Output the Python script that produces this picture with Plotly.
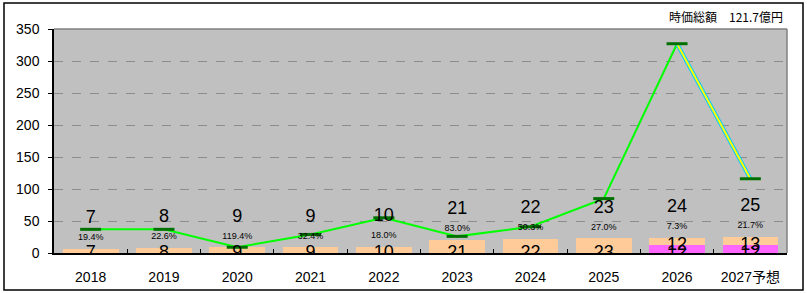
import plotly.graph_objects as go

years = ["2018", "2019", "2020", "2021", "2022", "2023", "2024", "2025", "2026", "2027予想"]
peach_vals = [7, 8, 9, 9, 10, 21, 22, 23, 12, 13]
magenta_vals = [None, None, None, None, None, None, None, None, 12, 12]
line_vals = [37, 37, 9, 29, 55, 26, 41, 85, 327, 116]
pct_labels = ["19.4%", "22.6%", "119.4%", "32.4%", "18.0%", "83.0%", "50.3%", "27.0%", "7.3%", "21.7%"]
title_text = "時価総額　121.7億円"

FONT = "Liberation Sans, Arial, Noto Sans CJK JP, sans-serif"
W, H = 807, 293
L, R, T, B = 54, 20, 29, 40
pw, ph = W - L - R, H - T - B

mag0 = [m or 0 for m in magenta_vals]
totals = [p + m for p, m in zip(peach_vals, mag0)]

fig = go.Figure()
fig.add_trace(go.Bar(x=years, y=magenta_vals, marker=dict(color="#FF66FF", line=dict(width=0)), width=0.76))
fig.add_trace(go.Bar(x=years, y=peach_vals, marker=dict(color="#FFCC99", line=dict(width=0)), width=0.76))

# main green line (actual)
fig.add_trace(go.Scatter(x=years[:9], y=line_vals[:9], mode="lines",
                         line=dict(color="#00FF00", width=2)))
# forecast segment: cyan border + yellow core
fig.add_trace(go.Scatter(x=years[8:], y=line_vals[8:], mode="lines",
                         line=dict(color="#00CCFF", width=4)))
fig.add_trace(go.Scatter(x=years[8:], y=line_vals[8:], mode="lines",
                         line=dict(color="#FFFF00", width=2)))
# markers
fig.add_trace(go.Scatter(x=years, y=line_vals, mode="markers",
                         marker=dict(symbol="line-ew", size=15, line=dict(color="#007000", width=3))))

# bar base labels
fig.add_trace(go.Scatter(x=years, y=[0] * len(years), mode="text",
                         text=[str(v) if m == 0 else str(m) for v, m in zip(peach_vals, mag0)],
                         textposition="middle center",
                         textfont=dict(family=FONT, size=18, color="black")))
fig.add_trace(go.Scatter(x=years[8:], y=mag0[8:], mode="text",
                         text=[str(v) for v in peach_vals[8:]],
                         textposition="middle center",
                         textfont=dict(family=FONT, size=18, color="black")))
# totals
fig.add_trace(go.Scatter(x=years, y=[t + 47 for t in totals], mode="text",
                         text=[str(t) for t in totals], textposition="middle center",
                         textfont=dict(family=FONT, size=18, color="black")))
# percentages
fig.add_trace(go.Scatter(x=years, y=[t + 17 for t in totals], mode="text",
                         text=pct_labels, textposition="middle center",
                         textfont=dict(family=FONT, size=9, color="black")))

fig.update_layout(
    width=W, height=H, margin=dict(l=L, r=R, t=T, b=B, pad=0, autoexpand=False),
    paper_bgcolor="white", plot_bgcolor="#C0C0C0",
    barmode="stack", showlegend=False, bargap=0.24,
    font=dict(family=FONT, size=14, color="black"),
    xaxis=dict(type="category", showgrid=False, ticks="inside", tickson="boundaries",
               ticklen=4, tickcolor="black", showline=True, linecolor="black", linewidth=1.5,
               ticklabelstandoff=10, tickfont=dict(family=FONT, size=14), range=[-0.5, 9.5],
               automargin=False),
    yaxis=dict(range=[0, 350], dtick=50, showgrid=True, gridcolor="#8C8C8C", griddash="dash",
               gridwidth=1, ticks="outside", ticklen=4, tickcolor="black", showline=True,
               linecolor="black", linewidth=1.5, zeroline=False, ticklabelstandoff=6,
               tickfont=dict(family=FONT, size=14), automargin=False),
    shapes=[
        dict(type="line", xref="paper", yref="paper", x0=0, x1=1, y0=1, y1=1,
             line=dict(color="#808080", width=1.5), layer="above"),
        dict(type="line", xref="paper", yref="paper", x0=1, x1=1, y0=0, y1=1,
             line=dict(color="#808080", width=1.5), layer="above"),
        dict(type="rect", xref="paper", yref="paper",
             x0=(4 - L) / pw, x1=(803 - L) / pw, y0=(H - B - 290) / ph, y1=(H - B - 3) / ph,
             line=dict(color="black", width=1.5), fillcolor="rgba(0,0,0,0)", layer="above"),
    ],
    annotations=[dict(text=title_text, xref="paper", yref="paper",
                      x=(785 - L) / pw, y=(H - B - 17) / ph, xanchor="right", yanchor="middle",
                      showarrow=False, font=dict(family="Noto Sans CJK JP, " + FONT, size=12))],
)

fig.write_html("out.html")
